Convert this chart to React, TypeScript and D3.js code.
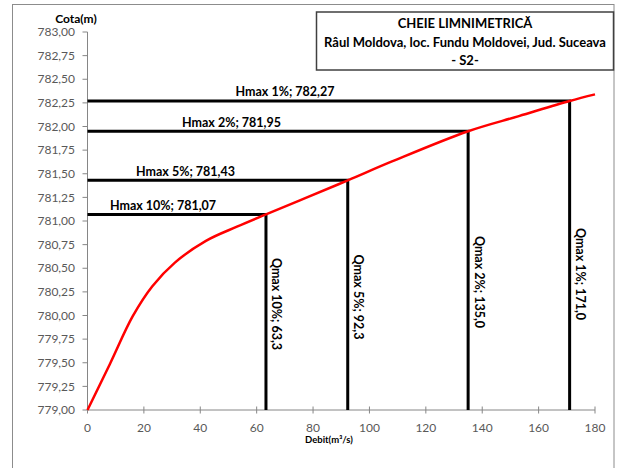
import React from "react";
import * as d3 from "d3";

// Rating curve: discharge (m³/s) vs. water level (m)
const debit = [0, 8, 16, 23, 31, 42, 53, 63.3, 77, 92.3, 108, 135, 153, 171, 180];
const cota = [779.0, 779.49, 779.99, 780.31, 780.56, 780.79, 780.94, 781.07, 781.24, 781.43, 781.63, 781.95, 782.11, 782.27, 782.34];

// Design flood levels / discharges
const hmaxLabels = ["Hmax 1%", "Hmax 2%", "Hmax 5%", "Hmax 10%"];
const qmaxLabels = ["Qmax 1%", "Qmax 2%", "Qmax 5%", "Qmax 10%"];
const hmaxValues = [782.27, 781.95, 781.43, 781.07];
const qmaxValues = [171.0, 135.0, 92.3, 63.3];

const xTicks = [0, 20, 40, 60, 80, 100, 120, 140, 160, 180];
const yTicks = [779, 779.25, 779.5, 779.75, 780, 780.25, 780.5, 780.75, 781, 781.25, 781.5, 781.75, 782, 782.25, 782.5, 782.75, 783];

const titleLines = ["CHEIE LIMNIMETRICĂ", "Râul Moldova, loc. Fundu Moldovei, Jud. Suceava", "- S2-"];

const W = 621;
const H = 468;
const plot = { left: 87.5, right: 595, top: 32, bottom: 410 };

const fmt = (v: number, d: number) => v.toFixed(d).replace(".", ",");

export default function App() {
  const x = d3.scaleLinear().domain([0, 180]).range([plot.left, plot.right]);
  const y = d3.scaleLinear().domain([779, 783]).range([plot.bottom, plot.top]);

  const pts: [number, number][] = debit.map((q, i) => [q, cota[i]]);
  const line = d3
    .line<[number, number]>()
    .x((d) => x(d[0]))
    .y((d) => y(d[1]))
    .curve(d3.curveCatmullRom.alpha(0.5));

  // label placement for each level/discharge pair
  const hLabelX = [285, 231.5, 185.5, 163];
  const qLabelY = [274, 282, 297, 304];

  const font = "Lato, 'Open Sans', sans-serif";

  return (
    <div style={{ position: "absolute", left: 0, top: 0 }}>
      <svg width={W} height={H} style={{ display: "block", fontFamily: font }}>
        <rect x={0} y={0} width={W} height={H} fill="#fff" />
        {/* chart area frame */}
        <rect x={12.5} y={4.5} width={601.5} height={480} fill="none" stroke="#8c8c8c" strokeWidth={1} />

        {/* y axis */}
        <line x1={plot.left} x2={plot.left} y1={plot.top} y2={plot.bottom} stroke="#868686" />
        {yTicks.map((t) => (
          <g key={t}>
            <line x1={plot.left - 5} x2={plot.left} y1={y(t)} y2={y(t)} stroke="#868686" />
            <text x={75} y={y(t)} dy="0.35em" textAnchor="end" fontSize={12} fill="#595959">
              {fmt(t, 2)}
            </text>
          </g>
        ))}
        <text x={76} y={23} textAnchor="middle" fontSize={12} fontWeight={700} fill="#000">
          Cota(m)
        </text>

        {/* x axis */}
        <line x1={plot.left} x2={plot.right} y1={plot.bottom} y2={plot.bottom} stroke="#868686" />
        {xTicks.map((t) => (
          <g key={t}>
            <line x1={x(t)} x2={x(t)} y1={plot.bottom - 3.5} y2={plot.bottom + 3.5} stroke="#868686" />
            <text x={x(t)} y={428} dy="0.35em" textAnchor="middle" fontSize={12} fill="#595959">
              {t}
            </text>
          </g>
        ))}
        <text x={329} y={443} textAnchor="middle" fontSize={9.5} fontWeight={700} fill="#000">
          Debit(m³/s)
        </text>

        {/* design level and discharge guide lines */}
        {hmaxValues.map((h, i) => {
          const q = qmaxValues[i];
          return (
            <g key={hmaxLabels[i]}>
              <path
                d={`M${plot.left},${y(h)}H${x(q)}V${plot.bottom}`}
                fill="none"
                stroke="#000"
                strokeWidth={3}
                strokeLinejoin="miter"
              />
              <text x={hLabelX[i]} y={y(h) - 4.5} textAnchor="middle" fontSize={12.5} fontWeight={700} fill="#000">
                {`${hmaxLabels[i]}; ${fmt(h, 2)}`}
              </text>
              <text
                x={x(q) + 11}
                y={qLabelY[i]}
                textAnchor="middle"
                dominantBaseline="central"
                fontSize={12.5}
                fontWeight={700}
                fill="#000"
                transform={`rotate(90, ${x(q) + 11}, ${qLabelY[i]})`}
              >
                {`${qmaxLabels[i]}; ${fmt(q, 1)}`}
              </text>
            </g>
          );
        })}

        {/* rating curve */}
        <path d={line(pts) ?? ""} fill="none" stroke="#ff0000" strokeWidth={2.5} />

        {/* title box */}
        <rect x={316.5} y={12} width={297} height={58} fill="#fff" stroke="#404040" strokeWidth={1.5} />
        {titleLines.map((s, i) => (
          <text key={i} x={465} y={28 + i * 18.5} textAnchor="middle" fontSize={13} fontWeight={700} fill="#000">
            {s}
          </text>
        ))}
      </svg>
    </div>
  );
}
